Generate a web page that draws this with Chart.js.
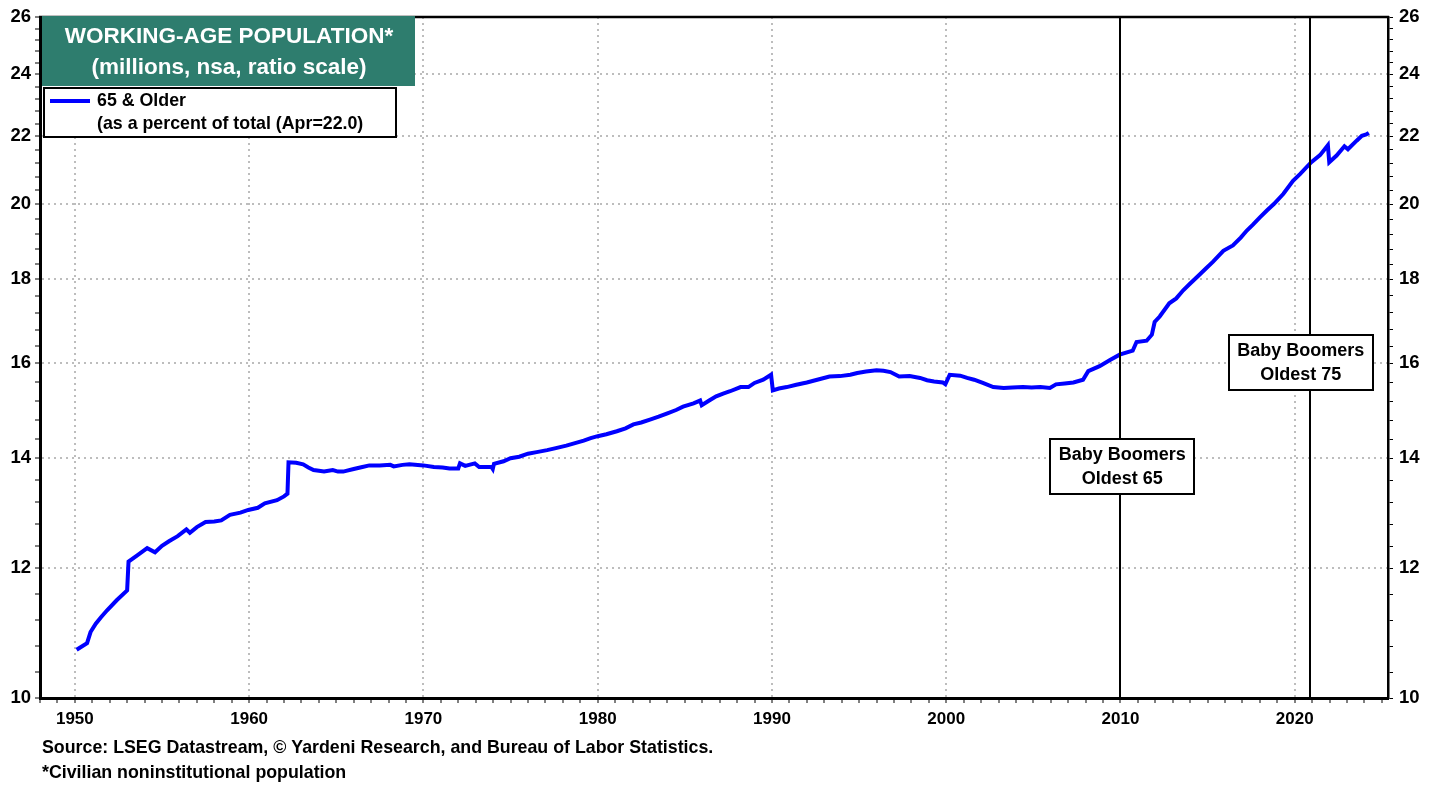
<!DOCTYPE html>
<html>
<head>
<meta charset="utf-8">
<title>Working-Age Population 65 & Older</title>
<script src="https://cdn.jsdelivr.net/npm/chart.js@4.4.1/dist/chart.umd.min.js"></script>
<style>
  body { margin: 0; background: #fff; }
  #wrap { width: 1439px; height: 787px; }
</style>
</head>
<body>
<div id="wrap"><canvas id="popChart" width="1439" height="787"></canvas></div>
<script>
// 65 & older as a percent of the working-age population
const years = [
    1950.1, 1950.7, 1950.9, 1951.2, 1951.5, 1951.85, 1952.4, 1953.0, 1953.08, 1953.6,
    1954.15, 1954.6, 1955.0, 1955.4, 1955.9, 1956.4, 1956.6, 1957.0, 1957.5, 1958.0,
    1958.4, 1958.9, 1959.5, 1959.95, 1960.5, 1960.9, 1961.6, 1962.0, 1962.2, 1962.26,
    1962.7, 1963.1, 1963.4, 1963.7, 1964.3, 1964.8, 1965.1, 1965.4, 1966.0, 1966.5,
    1966.9, 1967.5, 1968.1, 1968.3, 1968.8, 1969.2, 1970.0, 1970.6, 1971.1, 1971.5,
    1972.0, 1972.1, 1972.4, 1972.95, 1973.2, 1973.9, 1973.98, 1974.05, 1974.6, 1975.0,
    1975.5, 1976.0, 1976.5, 1977.1, 1977.6, 1978.2, 1978.7, 1979.2, 1979.6, 1980.0,
    1980.5, 1981.1, 1981.6, 1982.05, 1982.5, 1983.0, 1983.5, 1984.0, 1984.5, 1984.9,
    1985.5, 1985.88, 1985.97, 1986.4, 1986.8, 1987.2, 1987.6, 1988.2, 1988.65, 1989.0,
    1989.5, 1989.95, 1990.05, 1990.4, 1990.85, 1991.4, 1992.0, 1992.6, 1993.3, 1993.9,
    1994.5, 1994.9, 1995.4, 1996.0, 1996.4, 1996.8, 1997.3, 1997.9, 1998.5, 1998.9,
    1999.3, 1999.8, 1999.95, 2000.2, 2000.8, 2001.2, 2001.6, 2002.1, 2002.7, 2003.3,
    2003.8, 2004.4, 2004.9, 2005.4, 2005.95, 2006.3, 2006.8, 2007.3, 2007.85, 2008.15,
    2008.8, 2009.4, 2009.95, 2010.7, 2010.92, 2011.5, 2011.8, 2011.96, 2012.25, 2012.8,
    2013.2, 2013.6, 2014.0, 2014.5, 2014.9, 2015.3, 2015.9, 2016.45, 2016.9, 2017.25,
    2017.6, 2018.0, 2018.4, 2018.8, 2019.35, 2019.9, 2020.3, 2020.95, 2021.45, 2021.9,
    2021.98, 2022.4, 2022.85, 2023.05, 2023.55, 2023.85, 2024.1, 2024.25
];
const pct65 = [
    10.70, 10.80, 10.97, 11.10, 11.20, 11.31, 11.47, 11.63, 12.11, 12.22,
    12.34, 12.27, 12.38, 12.46, 12.55, 12.67, 12.61, 12.71, 12.80, 12.81,
    12.83, 12.93, 12.97, 13.02, 13.06, 13.14, 13.20, 13.27, 13.32, 13.92,
    13.91, 13.88, 13.82, 13.77, 13.74, 13.77, 13.74, 13.74, 13.79, 13.83,
    13.86, 13.86, 13.87, 13.84, 13.87, 13.88, 13.86, 13.83, 13.82, 13.80,
    13.80, 13.90, 13.85, 13.90, 13.83, 13.83, 13.79, 13.89, 13.94, 14.00,
    14.03, 14.09, 14.12, 14.16, 14.20, 14.25, 14.30, 14.35, 14.40, 14.44,
    14.48, 14.54, 14.60, 14.68, 14.72, 14.78, 14.84, 14.91, 14.98, 15.05,
    15.12, 15.18, 15.08, 15.18, 15.27, 15.33, 15.38, 15.47, 15.47, 15.56,
    15.63, 15.74, 15.40, 15.44, 15.47, 15.52, 15.57, 15.63, 15.70, 15.71,
    15.74, 15.78, 15.81, 15.84, 15.83, 15.80, 15.70, 15.71, 15.67, 15.62,
    15.59, 15.57, 15.53, 15.74, 15.72, 15.67, 15.63, 15.56, 15.47, 15.45,
    15.46, 15.47, 15.46, 15.47, 15.45, 15.53, 15.55, 15.57, 15.63, 15.82,
    15.93, 16.07, 16.19, 16.28, 16.48, 16.51, 16.65, 16.95, 17.08, 17.40,
    17.52, 17.72, 17.89, 18.10, 18.27, 18.44, 18.73, 18.87, 19.08, 19.27,
    19.43, 19.63, 19.82, 20.00, 20.29, 20.66, 20.86, 21.21, 21.42, 21.72,
    21.21, 21.41, 21.69, 21.60, 21.86, 22.01, 22.05, 22.10
];

const yTickValues = [10, 12, 14, 16, 18, 20, 22, 24, 26];
const xFirstYear = 1948;
const xLastYear = 2025.35;
const xLabelStep = 10;

const markerYears = [2010, 2020.9];
const markerLabels = [['Baby Boomers', 'Oldest 65'], ['Baby Boomers', 'Oldest 75']];

const titleLines = ['WORKING-AGE POPULATION*', '(millions, nsa, ratio scale)'];
const legendLines = ['65 & Older', '(as a percent of total (Apr=22.0)'];
const footLines = [
    'Source: LSEG Datastream, \u00A9 Yardeni Research, and Bureau of Labor Statistics.',
    '*Civilian noninstitutional population'
];

const FONT = '"Liberation Sans", Arial, sans-serif';
const LINE_BLUE = '#0000ff';
const TEAL = '#2e7d6e';
const GRID = '#bdbdbd';

// yearly ticks on x, four minor ticks between the y majors (even on the ratio scale)
const xTicks = [];
for (let yr = xFirstYear; yr <= Math.floor(xLastYear); yr++) xTicks.push(yr);

const yTicksAll = [];
for (let i = 0; i < yTickValues.length; i++) {
    const a = yTickValues[i];
    yTicksAll.push(a);
    if (i < yTickValues.length - 1) {
        const b = yTickValues[i + 1];
        for (let k = 1; k < 5; k++) yTicksAll.push(a * Math.pow(b / a, k / 5));
    }
}
const isMajorY = v => yTickValues.some(t => Math.abs(t - v) < 1e-6);

const points = years.map((yr, i) => ({ x: yr, y: pct65[i] }));

function boxWithText(ctx, cx, cy, w, h, lines, size) {
    const x0 = Math.round(cx - w / 2), y0 = Math.round(cy - h / 2);
    ctx.fillStyle = '#fff';
    ctx.fillRect(x0, y0, w, h);
    ctx.strokeStyle = '#000';
    ctx.lineWidth = 2;
    ctx.strokeRect(x0, y0, w, h);
    ctx.fillStyle = '#000';
    ctx.font = 'bold ' + size + 'px ' + FONT;
    ctx.textAlign = 'center';
    ctx.textBaseline = 'middle';
    ctx.fillText(lines[0], cx, y0 + h * 0.29);
    ctx.fillText(lines[1], cx, y0 + h * 0.72);
}

const overlayPlugin = {
    id: 'overlay',
    afterDatasetsDraw(chart) {
        const { ctx, chartArea: a, scales } = chart;
        ctx.save();

        // top edge of the frame
        ctx.strokeStyle = '#000';
        ctx.lineWidth = 2.5;
        ctx.beginPath();
        ctx.moveTo(a.left - 1, a.top);
        ctx.lineTo(a.right + 1, a.top);
        ctx.stroke();

        // baby boomer marker lines
        ctx.lineWidth = 2;
        markerYears.forEach(yr => {
            const px = Math.round(scales.x.getPixelForValue(yr));
            ctx.beginPath();
            ctx.moveTo(px, a.top);
            ctx.lineTo(px, a.bottom);
            ctx.stroke();
        });

        // marker boxes
        boxWithText(ctx, scales.x.getPixelForValue(2010.1), scales.y.getPixelForValue(13.84), 144, 55, markerLabels[0], 18);
        boxWithText(ctx, scales.x.getPixelForValue(2020.35), scales.y.getPixelForValue(16.02), 144, 55, markerLabels[1], 18);

        // title block
        ctx.fillStyle = TEAL;
        ctx.fillRect(42, 16, 373, 70);
        ctx.fillStyle = '#fff';
        ctx.font = 'bold 22.5px ' + FONT;
        ctx.textAlign = 'center';
        ctx.textBaseline = 'middle';
        ctx.fillText(titleLines[0], 229, 37);
        ctx.fillText(titleLines[1], 229, 68);

        // legend block
        ctx.fillStyle = '#fff';
        ctx.fillRect(44, 88, 352, 49);
        ctx.strokeStyle = '#000';
        ctx.lineWidth = 2;
        ctx.strokeRect(44, 88, 352, 49);
        ctx.strokeStyle = LINE_BLUE;
        ctx.lineWidth = 4;
        ctx.beginPath();
        ctx.moveTo(50, 101);
        ctx.lineTo(90, 101);
        ctx.stroke();
        ctx.fillStyle = '#000';
        ctx.font = 'bold 17.8px ' + FONT;
        ctx.textAlign = 'left';
        ctx.fillText(legendLines[0], 97, 101);
        ctx.fillText(legendLines[1], 97, 124);

        // footnotes
        ctx.font = 'bold 17.8px ' + FONT;
        ctx.fillText(footLines[0], 42, 748);
        ctx.fillText(footLines[1], 42, 773);

        ctx.restore();
    }
};

function createChart() {
    const config = {
        type: 'line',
        data: {
            datasets: [{
                label: '65 & Older',
                data: points,
                borderColor: LINE_BLUE,
                borderWidth: 4,
                pointRadius: 0,
                tension: 0,
                fill: false
            }]
        },
        options: {
            responsive: false,
            animation: false,
            layout: { padding: { top: 14, left: 0, right: 0, bottom: 0 } },
            plugins: {
                legend: { display: false },
                tooltip: { enabled: false }
            },
            scales: {
                x: {
                    type: 'linear',
                    min: xFirstYear,
                    max: xLastYear,
                    afterBuildTicks: s => { s.ticks = xTicks.map(v => ({ value: v })); },
                    afterFit: s => { s.height = 89; },
                    ticks: {
                        autoSkip: false,
                        maxRotation: 0,
                        padding: 6,
                        color: '#000',
                        font: { family: FONT, size: 17, weight: 'bold' },
                        callback: v => (v % xLabelStep === 0 ? String(v) : '')
                    },
                    grid: {
                        color: c => (c.tick && c.tick.value % xLabelStep === 0 ? GRID : 'rgba(0,0,0,0)'),
                        lineWidth: 2,
                        tickColor: '#000',
                        tickLength: 5,
                        tickWidth: 1
                    },
                    border: { display: true, color: '#000', width: 3, dash: [2, 4] }
                },
                y: {
                    type: 'logarithmic',
                    position: 'left',
                    min: 10,
                    max: 26,
                    afterBuildTicks: s => { s.ticks = yTicksAll.map(v => ({ value: v, major: isMajorY(v) })); },
                    afterFit: s => { s.width = 40; },
                    ticks: {
                        autoSkip: false,
                        padding: 4,
                        color: '#000',
                        font: { family: FONT, size: 18.5, weight: 'bold' },
                        callback: v => (isMajorY(v) ? String(Math.round(v)) : '')
                    },
                    grid: {
                        color: c => (c.tick && isMajorY(c.tick.value) && c.tick.value !== 10 && c.tick.value !== 26 ? GRID : 'rgba(0,0,0,0)'),
                        lineWidth: 2,
                        tickColor: '#000',
                        tickLength: 5,
                        tickWidth: 1
                    },
                    border: { display: true, color: '#000', width: 3, dash: [2, 4] }
                },
                y2: {
                    type: 'logarithmic',
                    position: 'right',
                    min: 10,
                    max: 26,
                    afterBuildTicks: s => { s.ticks = yTicksAll.map(v => ({ value: v, major: isMajorY(v) })); },
                    afterFit: s => { s.width = 51; },
                    ticks: {
                        autoSkip: false,
                        padding: 6,
                        color: '#000',
                        font: { family: FONT, size: 18.5, weight: 'bold' },
                        callback: v => (isMajorY(v) ? String(Math.round(v)) : '')
                    },
                    grid: {
                        drawOnChartArea: false,
                        tickColor: '#000',
                        tickLength: 5,
                        tickWidth: 1
                    },
                    border: { display: true, color: '#000', width: 2.5 }
                }
            }
        },
        plugins: [overlayPlugin]
    };

    const ctx = document.getElementById('popChart').getContext('2d');
    new Chart(ctx, config);
}

createChart();
</script>
</body>
</html>
